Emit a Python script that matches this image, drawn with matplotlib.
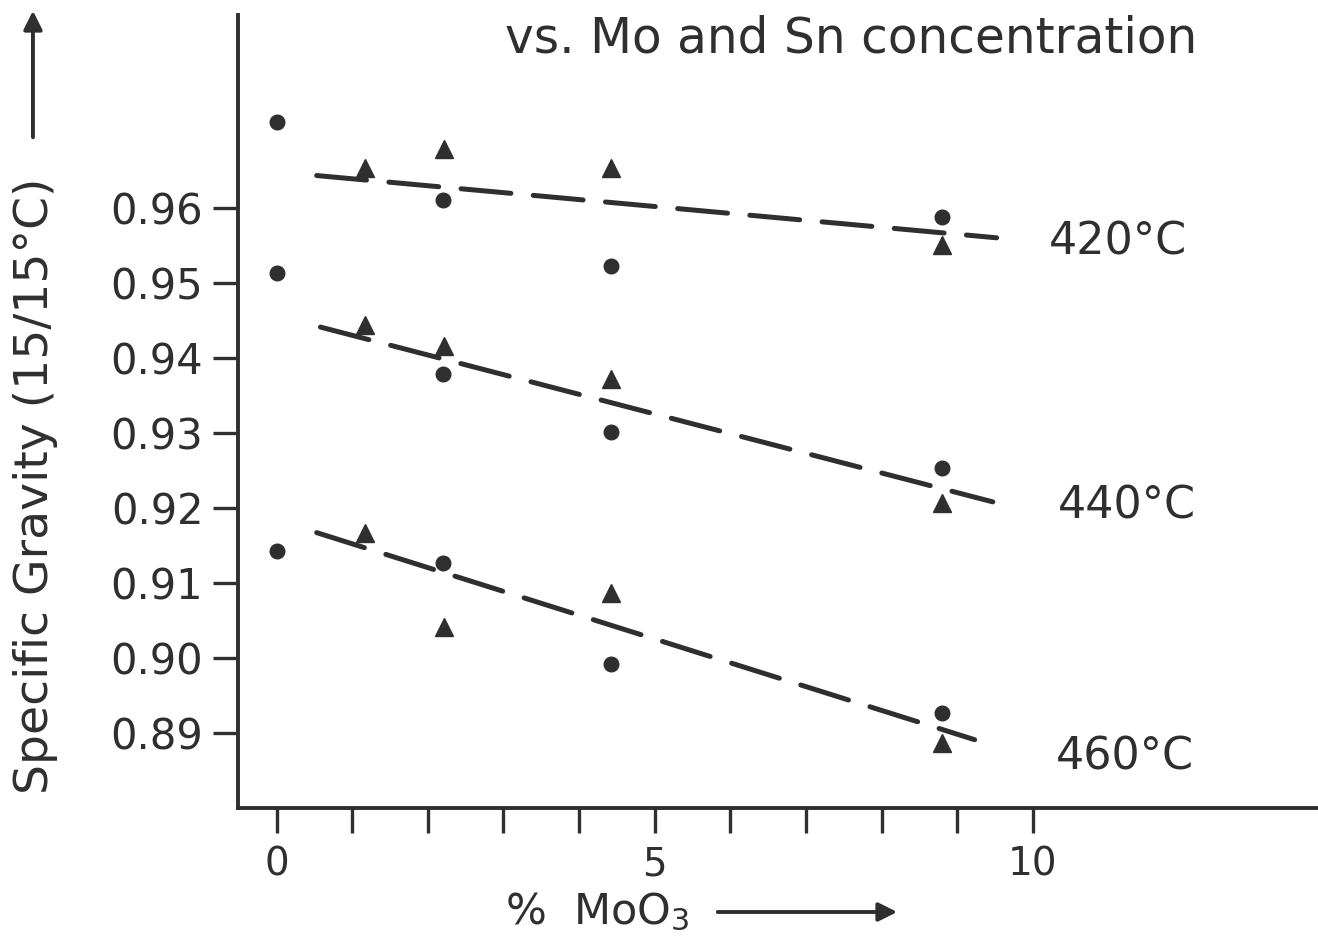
import matplotlib
matplotlib.use("Agg")
import matplotlib.pyplot as plt

# --- data -----------------------------------------------------------------
# circles
circle_x = [0, 0, 0, 2.2, 2.2, 2.2, 4.42, 4.42, 4.42, 8.8, 8.8, 8.8]
circle_y = [0.9715, 0.9513, 0.9142, 0.9611, 0.9378, 0.9127,
            0.9523, 0.9301, 0.8992, 0.9588, 0.9253, 0.8926]

# triangles
tri_x = [1.17, 1.17, 1.17, 2.22, 2.22, 2.22, 4.42, 4.42, 4.42, 8.8, 8.8, 8.8]
tri_y = [0.9653, 0.9444, 0.9167, 0.9679, 0.9416, 0.9041,
         0.9653, 0.9372, 0.9086, 0.9550, 0.9206, 0.8886]

# dashed trend lines per temperature
temps = ['420°C', '440°C', '460°C']
fit_x = [[0.53, 9.52], [0.58, 9.47], [0.53, 9.23]]
fit_y = [[0.9643, 0.9560], [0.9441, 0.9208], [0.9167, 0.8891]]
label_x = [11.12, 11.24, 11.22]
label_y = [0.9554, 0.9202, 0.8868]

xticks = list(range(11))
xtick_labels = ['0', '', '', '', '', '5', '', '', '', '', '10']
yticks = [0.89, 0.90, 0.91, 0.92, 0.93, 0.94, 0.95, 0.96]
ytick_labels = ['0.89', '0.90', '0.91', '0.92', '0.93', '0.94', '0.95', '0.96']

ink = '#2f2f2f'
plt.rcParams['font.family'] = ['DejaVu Sans']

fig = plt.figure(figsize=(13.18, 9.43), dpi=100)
ax = fig.add_axes([0.1806, 0.1432, 0.8194, 0.8409])

for xs, ys in zip(fit_x, fit_y):
    ax.plot(xs, ys, color=ink, linewidth=3.6, dashes=(10, 4.5),
            solid_capstyle='round', dash_capstyle='round')

ax.plot(circle_x, circle_y, 'o', color=ink, markersize=10.5, linestyle='none')
ax.plot(tri_x, tri_y, '^', color=ink, markersize=12.5, linestyle='none')

for t, lx, ly in zip(temps, label_x, label_y):
    ax.text(lx, ly, t, fontsize=32, color=ink, ha='center', va='center')

ax.set_xlim(-0.51, 13.77)
ax.set_ylim(0.8800, 0.9857)

ax.set_xticks(xticks)
ax.set_xticklabels(xtick_labels)
ax.set_yticks(yticks)
ax.set_yticklabels(ytick_labels)

ax.tick_params(axis='both', direction='out', length=18, width=2.4,
               color=ink, labelcolor=ink)
ax.tick_params(axis='y', labelsize=30, pad=7)
ax.tick_params(axis='x', labelsize=28, pad=9)

for side in ['top', 'right']:
    ax.spines[side].set_visible(False)
for side in ['left', 'bottom']:
    ax.spines[side].set_linewidth(2.8)
    ax.spines[side].set_color(ink)

# header text
fig.text(0.383, 0.9597, 'vs. Mo and Sn concentration', fontsize=35,
         color=ink, ha='left', va='center')

# y axis label with arrow
fig.text(0.027, 0.4846, 'Specific Gravity (15/15°C)', fontsize=34,
         color=ink, rotation=90, ha='center', va='center')
fig.patches.append(matplotlib.patches.FancyArrowPatch(
    (0.025, 1 - 140 / 943), (0.025, 1 - 8 / 943), transform=fig.transFigure,
    arrowstyle='-|>', mutation_scale=28, linewidth=2.8, color=ink))

# x axis label with arrow
fig.text(0.453, 1 - 912 / 943, '%  MoO$_3$', fontsize=31,
         color=ink, ha='center', va='center')
fig.patches.append(matplotlib.patches.FancyArrowPatch(
    (715 / 1318, 1 - 912 / 943), (900 / 1318, 1 - 912 / 943),
    transform=fig.transFigure, arrowstyle='-|>', mutation_scale=28,
    linewidth=2.8, color=ink))

fig.savefig('out.png', dpi=100, facecolor='white')
